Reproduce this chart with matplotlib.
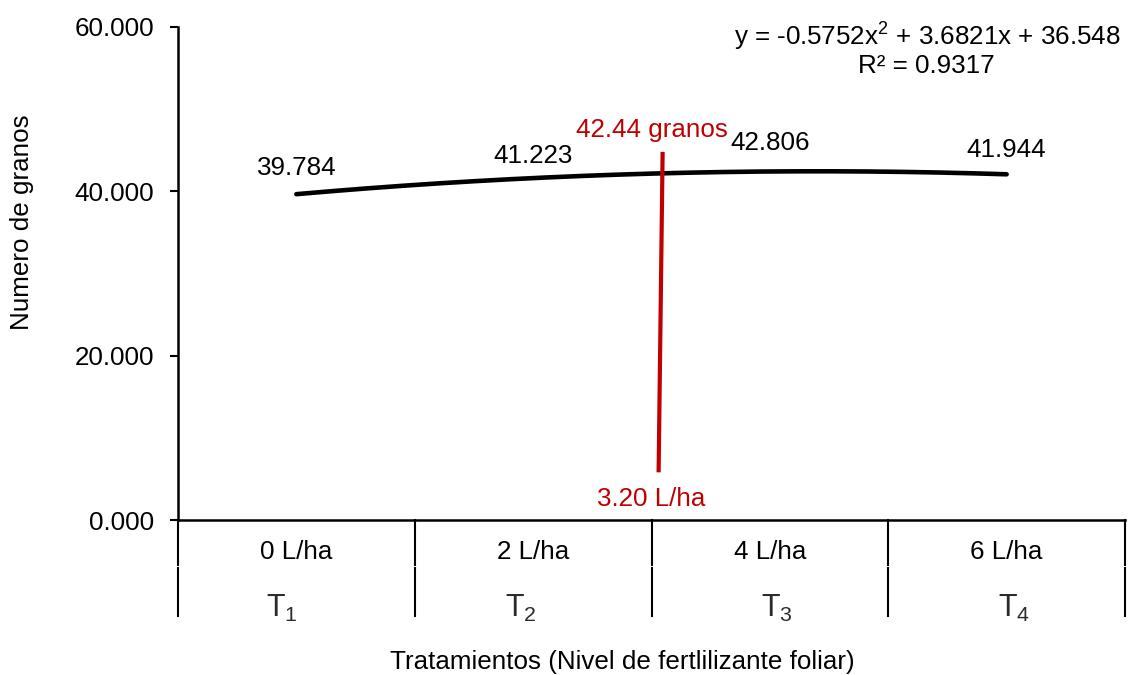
import numpy as np
import matplotlib
matplotlib.use("Agg")
import matplotlib.pyplot as plt

plt.rcParams["font.family"] = ["Liberation Sans", "DejaVu Sans"]
plt.rcParams["mathtext.fontset"] = "custom"
plt.rcParams["mathtext.rm"] = "Liberation Sans"
plt.rcParams["mathtext.it"] = "Liberation Sans"
plt.rcParams["mathtext.default"] = "regular"

# Data
doses = ["0 L/ha", "2 L/ha", "4 L/ha", "6 L/ha"]
treatments = ["T$_{1}$", "T$_{2}$", "T$_{3}$", "T$_{4}$"]
grains = [39.784, 41.223, 42.806, 41.944]
trend_coef = [-0.5752, 3.6821, 36.548]   # quadratic trend: a x^2 + b x + c
r_squared = 0.9317
yticks = [0, 20, 40, 60]

# Optimum annotation (vertex of the trend)
opt_grains = 42.44
opt_dose = 3.20
marker_top = (2.547, 44.8)
marker_bottom = (2.530, 5.8)

FS = 18.7
RED = "#C00000"

fig = plt.figure(figsize=(11.28, 6.75), dpi=100)
ax = fig.add_axes([178 / 1128, 1 - 520 / 675, (1125 - 178) / 1128, 493 / 675])

x = np.arange(1, len(grains) + 1)
xs = np.linspace(1, len(grains), 200)
ax.plot(xs, np.polyval(trend_coef, xs), color="black", lw=3.3, solid_capstyle="round")

for xi, yi in zip(x, grains):
    ax.annotate(f"{yi:.3f}", (xi, yi), xytext=(0, 18), textcoords="offset points",
                ha="center", va="center", fontsize=FS)

# Optimum marker
ax.plot([marker_top[0], marker_bottom[0]], [marker_top[1], marker_bottom[1]],
        color=RED, lw=3.0, solid_capstyle="butt")
ax.text(2.50, 47.5, f"{opt_grains:.2f} granos", color=RED, fontsize=FS, ha="center", va="center")
ax.text(2.50, 2.6, f"{opt_dose:.2f} L/ha", color=RED, fontsize=FS, ha="center", va="center")

# Trend equation
a, b, c = trend_coef
fig.text(927 / 1128, 1 - 37 / 675, f"y = {a:.4f}x$^{{2}}$ + {b:.4f}x + {c:.3f}",
         fontsize=FS, ha="center", va="center")
fig.text(926 / 1128, 1 - 66 / 675, f"R² = {r_squared:.4f}", fontsize=FS, ha="center", va="center")

ax.set_xlim(0.5, len(grains) + 0.5)
ax.set_ylim(0, 60)
ax.set_yticks(yticks)
ax.set_yticklabels([f"{v:.3f}" for v in yticks], fontsize=FS)
ax.tick_params(axis="y", direction="out", length=6, width=1.5, pad=11)
ax.set_xticks([])
for s in ["top", "right"]:
    ax.spines[s].set_visible(False)
ax.spines["left"].set_linewidth(1.8)
ax.spines["bottom"].set_linewidth(1.8)

# Multi-level category axis below the plot
trans = ax.get_xaxis_transform()
ax_h = 493.0
for xb in np.arange(0.5, len(grains) + 1, 1.0):
    ax.plot([xb, xb], [0, -45 / ax_h], transform=trans, color="black", lw=1.5, clip_on=False)
    ax.plot([xb, xb], [-48 / ax_h, -96 / ax_h], transform=trans, color="black", lw=1.5, clip_on=False)

for xi, d in zip(x, doses):
    ax.text(xi, -32 / ax_h, d, transform=trans, ha="center", va="center", fontsize=FS)

# Treatment codes in the second row
t_pos = [0.94, 1.95, 3.03, 4.03]
for xi, t in zip(t_pos, treatments):
    ax.text(xi, -97 / ax_h, t, transform=trans, ha="center", va="baseline",
            fontsize=22, color="#2b2b2b")

fig.text(622 / 1128, 1 - 662 / 675, "Tratamientos (Nivel de fertlilizante foliar)",
         fontsize=FS, ha="center", va="center")
fig.text(22 / 1128, 1 - 222 / 675, "Numero de granos", fontsize=FS, rotation=90,
         ha="center", va="center")

fig.savefig("out.png", dpi=100)
